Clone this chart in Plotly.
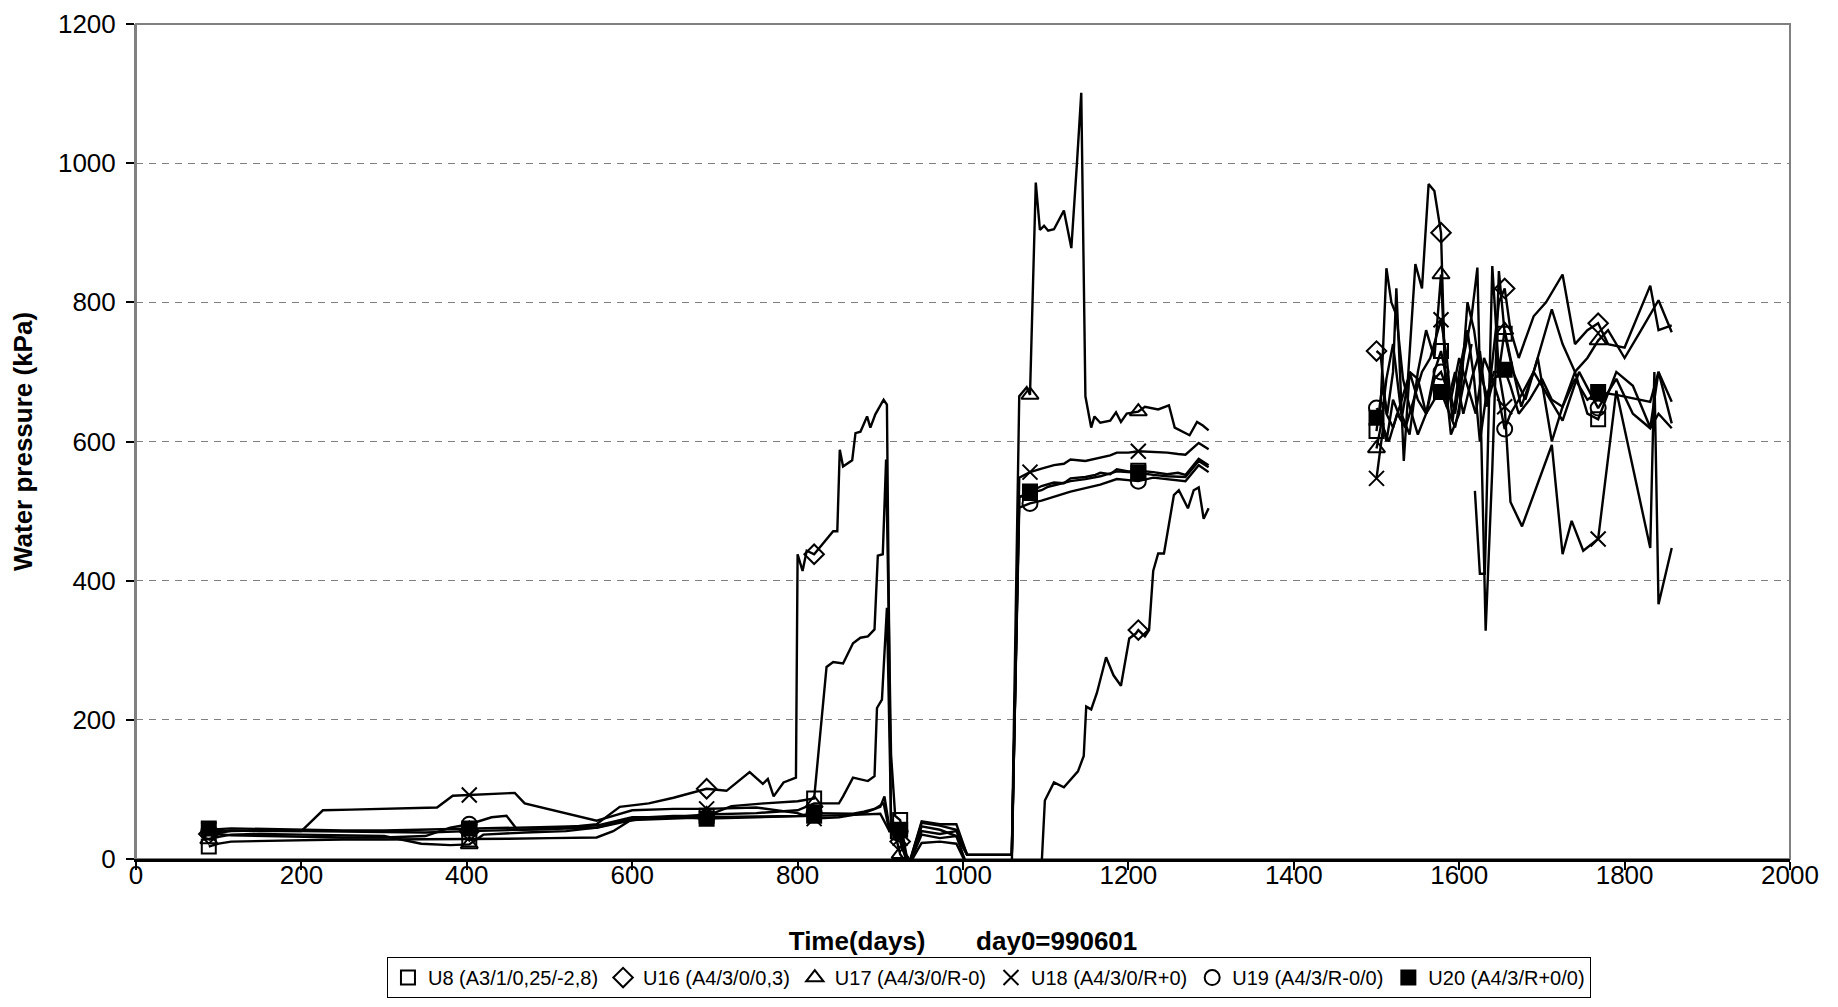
import plotly.graph_objects as go

# ---------------- data (day, kPa) ----------------
marker_days = [88, 403, 690, 820, 924, 1081, 1212, 1500, 1578, 1655, 1768]

u8 = [(88, 18), (100, 22), (115, 25), (150, 26), (200, 27), (250, 28), (300, 28), (350, 28), (403, 28),
      (450, 29), (500, 30), (557, 31), (577, 40), (597, 55), (620, 60), (650, 62), (690, 62), (720, 76),
      (760, 80), (800, 83), (820, 87), (835, 276), (843, 283), (855, 281), (867, 310), (876, 318),
      (885, 320), (893, 330), (897, 436), (903, 438), (907, 574), (913, 150), (918, 62), (924, 56),
      (934, -10), (950, 54), (972, 50), (992, 50), (1005, 6), (1030, 6), (1059, 6),
      (1068, 520), (1081, 528), (1095, 536), (1110, 541), (1122, 540), (1130, 547), (1148, 549),
      (1160, 552), (1166, 555), (1178, 553), (1186, 560), (1200, 557), (1212, 558), (1230, 556),
      (1247, 553), (1260, 555), (1269, 552), (1285, 575), (1292, 570), (1297, 566),
      (1400, None),
      (1500, 615), (1507, 680), (1513, 640), (1520, 700), (1524, 820), (1533, 572), (1540, 700),
      (1550, 660), (1560, 640), (1570, 700), (1578, 730), (1585, 690), (1595, 640), (1605, 720),
      (1615, 780), (1622, 850), (1632, 328), (1640, 560), (1648, 845), (1655, 755), (1665, 700),
      (1680, 660), (1695, 720), (1712, 600), (1725, 650), (1740, 700), (1755, 640), (1768, 632),
      (1790, 700), (1810, 680), (1831, 620), (1841, 700), (1857, 626)]

u16 = [(88, 36), (100, 38), (115, 40), (150, 41), (200, 40), (250, 39), (300, 39), (350, 38), (403, 40),
       (450, 41), (500, 43), (557, 50), (585, 75), (620, 80), (650, 88), (690, 101), (714, 98),
       (742, 125), (758, 108), (764, 115), (771, 90), (783, 110), (798, 117), (800, 438), (806, 414),
       (811, 443), (820, 438), (843, 471), (848, 471), (851, 588), (855, 564), (866, 573), (870, 612),
       (876, 614), (884, 636), (888, 620), (894, 639), (904, 660), (908, 653), (913, 30), (924, 25),
       (934, -10), (950, 35), (972, 30), (992, 33), (1005, -10), (1050, -10), (1081, -10), (1095, -10),
       (1099, 84), (1110, 110), (1122, 103), (1139, 126), (1146, 148), (1149, 219), (1155, 215),
       (1162, 239), (1173, 290), (1182, 264), (1191, 249), (1201, 317), (1209, 324), (1212, 329),
       (1220, 320), (1225, 329), (1230, 414), (1236, 439), (1243, 439), (1249, 478), (1255, 523),
       (1261, 530), (1272, 504), (1279, 530), (1285, 534), (1291, 489), (1297, 504),
       (1400, None),
       (1500, 730), (1505, 725), (1512, 640), (1520, 620), (1528, 650), (1538, 690), (1547, 855),
       (1555, 820), (1563, 970), (1570, 960), (1578, 900), (1583, 690), (1590, 610), (1600, 640),
       (1610, 800), (1618, 760), (1625, 700), (1635, 660), (1648, 800), (1655, 820), (1662, 760),
       (1672, 720), (1690, 780), (1705, 800), (1725, 840), (1740, 740), (1755, 760), (1768, 770),
       (1780, 740), (1800, 735), (1831, 824), (1841, 760), (1857, 767)]

u17 = [(88, 28), (100, 32), (115, 35), (150, 36), (200, 35), (250, 34), (300, 33), (345, 22), (380, 20),
       (403, 21), (420, 35), (470, 38), (520, 40), (557, 45), (600, 58), (650, 60), (690, 64), (750, 66),
       (800, 70), (820, 80), (850, 80), (855, 90), (867, 117), (885, 112), (893, 119), (896, 217),
       (902, 229), (908, 361), (913, 60), (924, 7), (934, -10), (950, 47), (972, 42), (992, 33),
       (1005, 6), (1030, 6), (1059, 6),
       (1068, 665), (1077, 678), (1081, 667), (1088, 972), (1093, 904), (1098, 910), (1103, 903),
       (1110, 905), (1122, 932), (1131, 878), (1138, 1004), (1143, 1101), (1148, 665), (1155, 620),
       (1159, 636), (1166, 627), (1178, 630), (1185, 642), (1191, 628), (1198, 640), (1212, 643),
       (1220, 650), (1236, 646), (1249, 652), (1256, 620), (1274, 609), (1283, 628), (1290, 623),
       (1297, 616),
       (1400, None),
       (1500, 590), (1505, 620), (1512, 690), (1520, 740), (1530, 640), (1540, 610), (1550, 700),
       (1560, 760), (1570, 720), (1578, 840), (1585, 650), (1595, 620), (1605, 680), (1615, 740),
       (1617, None), (1619, 529), (1625, 410), (1631, 410), (1640, 852), (1648, 700), (1655, 760),
       (1662, 720), (1675, 650), (1690, 700), (1712, 790), (1725, 740), (1740, 700), (1755, 720),
       (1768, 745), (1780, 760), (1800, 720), (1820, 760), (1841, 803), (1857, 757)]

u18 = [(88, 42), (100, 40), (115, 41), (150, 40), (200, 40), (226, 70), (260, 71), (307, 72), (364, 74),
       (383, 91), (403, 92), (430, 94), (458, 95), (470, 80), (510, 68), (557, 55), (577, 62), (600, 70),
       (650, 72), (690, 72), (750, 74), (800, 66), (820, 58), (850, 60), (880, 66), (900, 75), (905, 90),
       (911, 45), (924, 30), (934, -10), (950, 23), (972, 25), (992, 22), (1005, -10), (1030, -10),
       (1059, -10),
       (1068, 548), (1081, 556), (1095, 561), (1110, 566), (1122, 568), (1130, 574), (1148, 572),
       (1166, 577), (1178, 580), (1186, 584), (1200, 584), (1212, 586), (1230, 585), (1247, 584),
       (1260, 582), (1269, 581), (1285, 598), (1297, 589),
       (1400, None),
       (1500, 547), (1508, 620), (1515, 600), (1525, 640), (1535, 620), (1545, 660), (1555, 700),
       (1565, 720), (1578, 775), (1585, 720), (1592, 630), (1600, 700), (1610, 760), (1618, 690),
       (1625, 600), (1632, 660), (1642, 700), (1648, 700), (1655, 650), (1662, 513), (1676, 478),
       (1712, 595), (1725, 438), (1736, 486), (1750, 443), (1768, 460), (1790, 673), (1831, 447),
       (1836, 700), (1841, 366), (1857, 447)]

u19 = [(88, 40), (100, 36), (115, 34), (150, 33), (200, 32), (250, 31), (300, 31), (350, 33), (380, 45),
       (403, 50), (430, 60), (448, 62), (461, 42), (500, 43), (557, 45), (600, 56), (650, 58), (690, 60),
       (750, 61), (800, 62), (820, 66), (850, 66), (867, 65), (880, 68), (893, 72), (904, 80), (911, 40),
       (924, 40), (934, -10), (950, 40), (972, 36), (992, 40), (1005, 6), (1030, 6), (1059, 6),
       (1068, 505), (1081, 511), (1095, 515), (1103, 518), (1120, 524), (1130, 528), (1148, 533),
       (1166, 538), (1186, 546), (1200, 544), (1212, 543), (1230, 548), (1247, 546), (1269, 543),
       (1285, 566), (1297, 556),
       (1400, None),
       (1500, 648), (1505, 640), (1512, 600), (1520, 660), (1530, 630), (1540, 700), (1550, 690),
       (1560, 640), (1570, 690), (1578, 700), (1590, 660), (1600, 720), (1610, 680), (1620, 640),
       (1630, 720), (1640, 690), (1648, 660), (1655, 618), (1662, 640), (1672, 660), (1690, 700),
       (1710, 660), (1725, 630), (1745, 700), (1768, 648), (1790, 690), (1810, 640), (1831, 619),
       (1841, 640), (1857, 619)]

u20 = [(88, 44), (100, 43), (115, 44), (150, 43), (200, 42), (250, 41), (300, 41), (350, 42), (403, 44),
       (450, 45), (500, 46), (557, 48), (600, 60), (650, 60), (690, 58), (750, 60), (800, 62), (820, 62),
       (860, 63), (900, 65), (911, 40), (924, 42), (934, -10), (950, 52), (972, 48), (992, 42),
       (1005, 6), (1030, 6), (1059, 6),
       (1068, 520), (1081, 526), (1095, 530), (1103, 535), (1120, 540), (1130, 543), (1148, 546),
       (1166, 550), (1186, 557), (1200, 556), (1212, 555), (1230, 552), (1247, 550), (1269, 549),
       (1285, 572), (1297, 563),
       (1400, None),
       (1500, 634), (1505, 650), (1512, 849), (1518, 800), (1524, 782), (1532, 690), (1540, 650),
       (1550, 610), (1560, 640), (1570, 660), (1578, 671), (1585, 650), (1595, 700), (1605, 640),
       (1615, 690), (1625, 730), (1633, 650), (1642, 690), (1655, 703), (1662, 680), (1672, 640),
       (1685, 660), (1700, 690), (1712, 660), (1725, 650), (1740, 690), (1755, 660), (1768, 671),
       (1790, 667), (1831, 657), (1841, 700), (1857, 657)]

series_names = ["U8 (A3/1/0,25/-2,8)", "U16 (A4/3/0/0,3)", "U17 (A4/3/0/R-0)",
                "U18 (A4/3/0/R+0)", "U19 (A4/3/R-0/0)", "U20 (A4/3/R+0/0)"]
series_data = [u8, u16, u17, u18, u19, u20]
series_symbols = ["square-open", "diamond-open", "triangle-up-open", "x-thin-open", "circle-open", "square"]
series_msize = [14, 15, 15, 15, 15, 14]

FONT = "Liberation Sans, Arial, sans-serif"

fig = go.Figure()
for name, data, sym, ms in zip(series_names, series_data, series_symbols, series_msize):
    xs = [d for d, v in data]
    ys = [v for d, v in data]
    fig.add_trace(go.Scatter(x=xs, y=ys, mode="lines", line=dict(color="black", width=2.4),
                             showlegend=False, hoverinfo="skip", connectgaps=False))
    lookup = {d: v for d, v in data}
    mx = [d for d in marker_days if d in lookup and lookup[d] is not None and lookup[d] >= 0]
    my = [lookup[d] for d in mx]
    fig.add_trace(go.Scatter(x=mx, y=my, mode="markers", name=name,
                             marker=dict(symbol=sym, size=ms, color="black",
                                         line=dict(color="black", width=2))))

# top / right gray border of the plot area
fig.add_shape(type="rect", xref="paper", yref="paper", x0=0, x1=1, y0=0, y1=1,
              line=dict(color="#808080", width=2), layer="below")

nb = "\u00a0" * 7
fig.update_layout(
    width=1822, height=991,
    margin=dict(l=128, r=40, t=16, b=140, autoexpand=False),
    paper_bgcolor="white", plot_bgcolor="white",
    font=dict(family=FONT, color="black", size=26),
    xaxis=dict(range=[0, 2000], dtick=200, tick0=0, showgrid=False, zeroline=False,
               showline=True, linecolor="black", linewidth=2.5, automargin=False,
               ticks="outside", ticklen=8, tickwidth=2, tickcolor="black",
               tickfont=dict(size=26, family=FONT), ticklabelstandoff=-17,
               ticklabeloverflow="allow",
               title=dict(text="<b>Time(days)" + nb + "day0=990601</b>",
                          font=dict(size=26, family=FONT), standoff=43)),
    yaxis=dict(range=[0, 1200], dtick=200, tick0=0, showgrid=True, gridcolor="#808080",
               gridwidth=1, griddash="7px,6px", zeroline=False, automargin=False,
               showline=True, linecolor="#808080", linewidth=2,
               ticks="outside", ticklen=8, tickwidth=2, tickcolor="black",
               tickfont=dict(size=26, family=FONT), ticklabelstandoff=5,
               ticklabeloverflow="allow",
               title=dict(text="<b>Water pressure (kPa)</b>",
                          font=dict(size=26, family=FONT), standoff=18)),
    legend=dict(orientation="h", x=0.5157, xanchor="center", y=-0.142, yanchor="middle",
                bordercolor="black", borderwidth=1, bgcolor="white",
                font=dict(size=20, family=FONT), itemwidth=30, tracegroupgap=0),
)

fig.write_html("out.html")
